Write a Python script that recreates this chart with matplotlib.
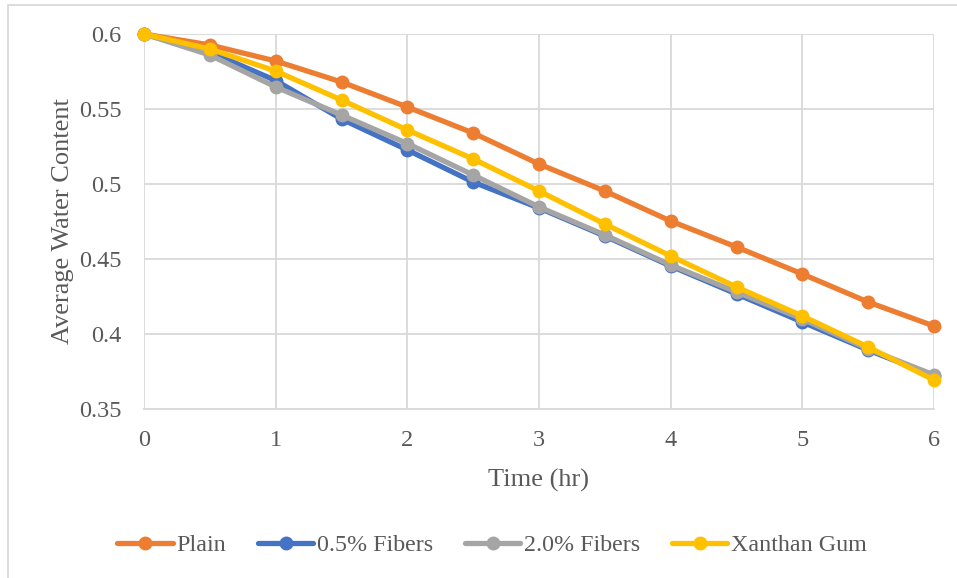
import matplotlib
matplotlib.use("Agg")
import matplotlib.pyplot as plt
from matplotlib.patches import Rectangle

time_hr = [0, 0.5, 1, 1.5, 2, 2.5, 3, 3.5, 4, 4.5, 5, 5.5, 6]
plain = [0.600, 0.5927, 0.582, 0.568, 0.5513, 0.534, 0.5133, 0.4953, 0.4753, 0.458, 0.440, 0.4213, 0.4053]
fib05 = [0.600, 0.5880, 0.569, 0.5433, 0.5227, 0.5013, 0.4840, 0.4653, 0.4453, 0.4267, 0.408, 0.3893, 0.3720]
fib20 = [0.600, 0.5860, 0.5647, 0.5460, 0.5270, 0.5060, 0.4847, 0.4660, 0.4460, 0.4280, 0.410, 0.3900, 0.3727]
xanthan = [0.600, 0.5900, 0.5753, 0.5560, 0.5360, 0.5167, 0.4953, 0.4733, 0.4520, 0.4313, 0.412, 0.3913, 0.3693]

series_names = ["Plain", "0.5% Fibers", "2.0% Fibers", "Xanthan Gum"]
series_vals = [plain, fib05, fib20, xanthan]
colors = ["#ED7D31", "#4472C4", "#A5A5A5", "#FFC000"]

x_ticks = [0, 1, 2, 3, 4, 5, 6]
y_ticks = [0.35, 0.4, 0.45, 0.5, 0.55, 0.6]
y_ticklabels = ["0.35", "0.4", "0.45", "0.5", "0.55", "0.6"]

plt.rcParams['font.family'] = ['Liberation Serif', 'DejaVu Serif']
text_color = "#595959"
grid_color = "#D9D9D9"

fig = plt.figure(figsize=(9.57, 5.78), dpi=100)
ax = fig.add_axes([144/957, 1-409/578, (934-144)/957, (409-34)/578])

for name, vals, c in zip(series_names, series_vals, colors):
    ax.plot(time_hr, vals, color=c, lw=3.8, marker='o', markersize=9,
            label=name, solid_capstyle='round', clip_on=False)

ax.set_xlim(0, 6)
ax.set_ylim(0.35, 0.6)
ax.set_xticks(x_ticks)
ax.set_yticks(y_ticks)
ax.set_yticklabels(y_ticklabels)
ax.grid(True, color=grid_color, lw=1.3)
ax.set_axisbelow(True)
for s in ["top", "right", "left"]:
    ax.spines[s].set_visible(False)
ax.spines["bottom"].set_color(grid_color)
ax.spines["bottom"].set_linewidth(1.3)
ax.tick_params(axis='both', length=0, labelsize=17.5, colors=text_color)
ax.tick_params(axis='x', pad=15)
ax.tick_params(axis='y', pad=16)
ax.set_xlabel("Time (hr)", fontsize=19, color=text_color, labelpad=13)
ax.set_ylabel("Average Water Content", fontsize=19, color=text_color, labelpad=3.5)

leg = fig.legend(loc='center', bbox_to_anchor=(492/957, 1-545/578), ncol=4,
                 frameon=False, fontsize=17.3, handlelength=2.3, columnspacing=1.33,
                 handletextpad=0.15)
for t in leg.get_texts():
    t.set_color(text_color)

fig.patches.append(Rectangle((8/957, -0.01), 1.0, 1-5/578+0.01, transform=fig.transFigure,
                             fill=False, edgecolor=grid_color, lw=1.3, zorder=-1))

fig.savefig("out.png", dpi=100)
